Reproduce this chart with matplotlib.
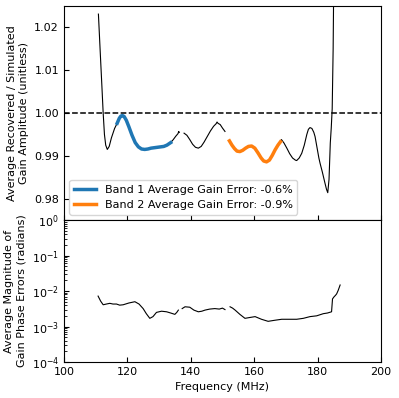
import numpy as np
import matplotlib
matplotlib.use("Agg")
import matplotlib.pyplot as plt

plt.rcParams['font.size'] = 8

# gain amplitude ratio (segments separated by gaps)
amp_a_f = [110.9, 111.5, 112.0, 112.4, 112.8, 113.2, 113.7, 114.3, 115.0, 116.0, 116.8]
amp_a_y = [1.0231, 1.0138, 1.0062, 1.0000, 0.9950, 0.9925, 0.9915, 0.9922, 0.9942, 0.9964, 0.9976]

band1_f = [116.8, 117.5, 118.0, 118.5, 119.0, 119.7, 120.5, 121.5, 122.5, 123.5, 124.5,
           125.5, 126.5, 127.5, 128.5, 129.5, 130.5, 131.5, 132.5, 133.7]
band1_y = [0.9976, 0.9988, 0.9993, 0.9994, 0.9992, 0.9983, 0.9968, 0.9948, 0.9931, 0.9921,
           0.9916, 0.9915, 0.9916, 0.9918, 0.9919, 0.9920, 0.9921, 0.9922, 0.9925, 0.9931]

amp_b_f = [133.7, 134.5, 135.3, 136.0, 136.2, 136.4]
amp_b_y = [0.9931, 0.9938, 0.9946, 0.9952, 0.9957, 0.9955]

amp_c_f = [137.9, 138.8, 139.7, 140.6, 141.5, 142.4, 143.3, 144.2, 145.2, 146.2, 147.2,
           148.0, 148.3, 148.6, 149.3, 150.0, 150.8]
amp_c_y = [0.9953, 0.9948, 0.9938, 0.9927, 0.9920, 0.9918, 0.9922, 0.9932, 0.9945, 0.9958,
           0.9969, 0.9975, 0.9979, 0.9976, 0.9973, 0.9965, 0.9957]

band2_f = [152.2, 153.0, 153.8, 154.6, 155.5, 156.4, 157.3, 158.2, 159.2, 160.2, 161.2,
           162.2, 163.0, 163.9, 164.8, 165.7, 166.6, 167.5, 168.3]
band2_y = [0.9935, 0.9925, 0.9917, 0.9911, 0.9910, 0.9913, 0.9918, 0.9922, 0.9923, 0.9918,
           0.9907, 0.9895, 0.9888, 0.9886, 0.9890, 0.9901, 0.9914, 0.9925, 0.9933]

amp_d_f = [168.3, 168.6, 169.4, 170.3, 171.2, 172.1, 173.0, 173.4, 174.2, 175.0, 175.8,
           176.6, 177.1, 177.6, 178.2, 178.8, 179.2, 179.8, 180.4, 180.8, 181.5,
           182.2, 182.8, 183.2, 183.6, 184.0, 184.3, 184.6, 184.9, 185.2]
amp_d_y = [0.9933, 0.9938, 0.9930, 0.9918, 0.9905, 0.9895, 0.9890, 0.9889, 0.9895, 0.9906,
           0.9925, 0.9950, 0.9962, 0.9966, 0.9964, 0.9955, 0.9945, 0.9920, 0.9895, 0.9882,
           0.9862, 0.9840, 0.9822, 0.9814, 0.9845, 0.9930, 0.9965, 1.0010, 1.0150, 1.0400]

# average phase error magnitude (radians)
ph_a_f = [110.8, 111.6, 112.4, 113.4, 114.5, 115.5, 116.6, 117.6, 118.7, 120.5, 122.4,
          123.7, 125.0, 126.0, 127.1, 128.1, 129.2, 130.8, 132.4, 133.7, 135.0, 135.6, 136.1]
ph_a_y = [7.2e-3, 5.2e-3, 4.1e-3, 4.3e-3, 4.5e-3, 4.3e-3, 4.3e-3, 4.0e-3, 4.1e-3, 4.6e-3, 5.0e-3,
          4.3e-3, 3.2e-3, 2.3e-3, 1.7e-3, 1.9e-3, 2.5e-3, 2.7e-3, 2.6e-3, 2.4e-3, 2.2e-3, 2.5e-3, 2.9e-3]

ph_b_f = [137.3, 138.2, 139.7, 141.0, 142.4, 143.5, 144.5, 146.0, 147.6, 149.0, 150.0, 150.8]
ph_b_y = [3.2e-3, 3.6e-3, 3.5e-3, 2.9e-3, 2.6e-3, 2.7e-3, 2.9e-3, 3.1e-3, 3.2e-3, 3.1e-3, 3.3e-3, 3.0e-3]

ph_c_f = [152.4, 153.2, 154.0, 155.5, 157.1, 158.7, 160.3, 162.3, 164.4, 166.5, 168.7,
          171.0, 173.4, 175.5, 177.6, 179.7, 181.8, 183.1, 184.4, 184.7, 185.2, 185.6,
          186.0, 186.5, 187.1]
ph_c_y = [3.6e-3, 3.3e-3, 2.9e-3, 2.2e-3, 1.7e-3, 1.8e-3, 1.9e-3, 1.6e-3, 1.4e-3, 1.5e-3, 1.6e-3,
          1.6e-3, 1.6e-3, 1.7e-3, 1.9e-3, 2.0e-3, 2.3e-3, 2.4e-3, 2.6e-3, 6.0e-3, 6.9e-3, 7.5e-3,
          8.3e-3, 1.05e-2, 1.48e-2]

band1_label = "Band 1 Average Gain Error: -0.6%"
band2_label = "Band 2 Average Gain Error: -0.9%"

fig = plt.figure(figsize=(3.99, 3.98), dpi=100)
ax1 = fig.add_axes([0.160, 0.447, 0.795, 0.538])
ax2 = fig.add_axes([0.160, 0.0905, 0.795, 0.3565], sharex=ax1)

for f, y in [(amp_a_f, amp_a_y), (amp_b_f, amp_b_y), (amp_c_f, amp_c_y), (amp_d_f, amp_d_y)]:
    ax1.plot(f, y, color='k', lw=0.8)
ax1.plot(band1_f, band1_y, color='C0', lw=2.5, label=band1_label)
ax1.plot(band2_f, band2_y, color='C1', lw=2.5, label=band2_label)
ax1.axhline(1.0, color='k', ls='--', lw=1.1)
ax1.set_ylim(0.975, 1.025)
ax1.set_yticks([0.98, 0.99, 1.00, 1.01, 1.02])
ax1.set_ylabel("Average Recovered / Simulated\nGain Amplitude (unitless)")
ax1.legend(loc='lower left', fontsize=8, handlelength=2.0, borderpad=0.4,
           bbox_to_anchor=(0.0, 0.0))
ax1.tick_params(direction='in', labelbottom=False)

for f, y in [(ph_a_f, ph_a_y), (ph_b_f, ph_b_y), (ph_c_f, ph_c_y)]:
    ax2.plot(f, y, color='k', lw=0.8)
ax2.set_yscale('log')
ax2.set_ylim(1e-4, 1)
ax2.set_xlim(100, 200)
ax2.set_xticks([100, 120, 140, 160, 180, 200])
ax2.set_xlabel("Frequency (MHz)")
ax2.set_ylabel("Average Magnitude of\nGain Phase Errors (radians)")
ax2.tick_params(which='both', direction='in')

fig.savefig("out.png", dpi=100)
